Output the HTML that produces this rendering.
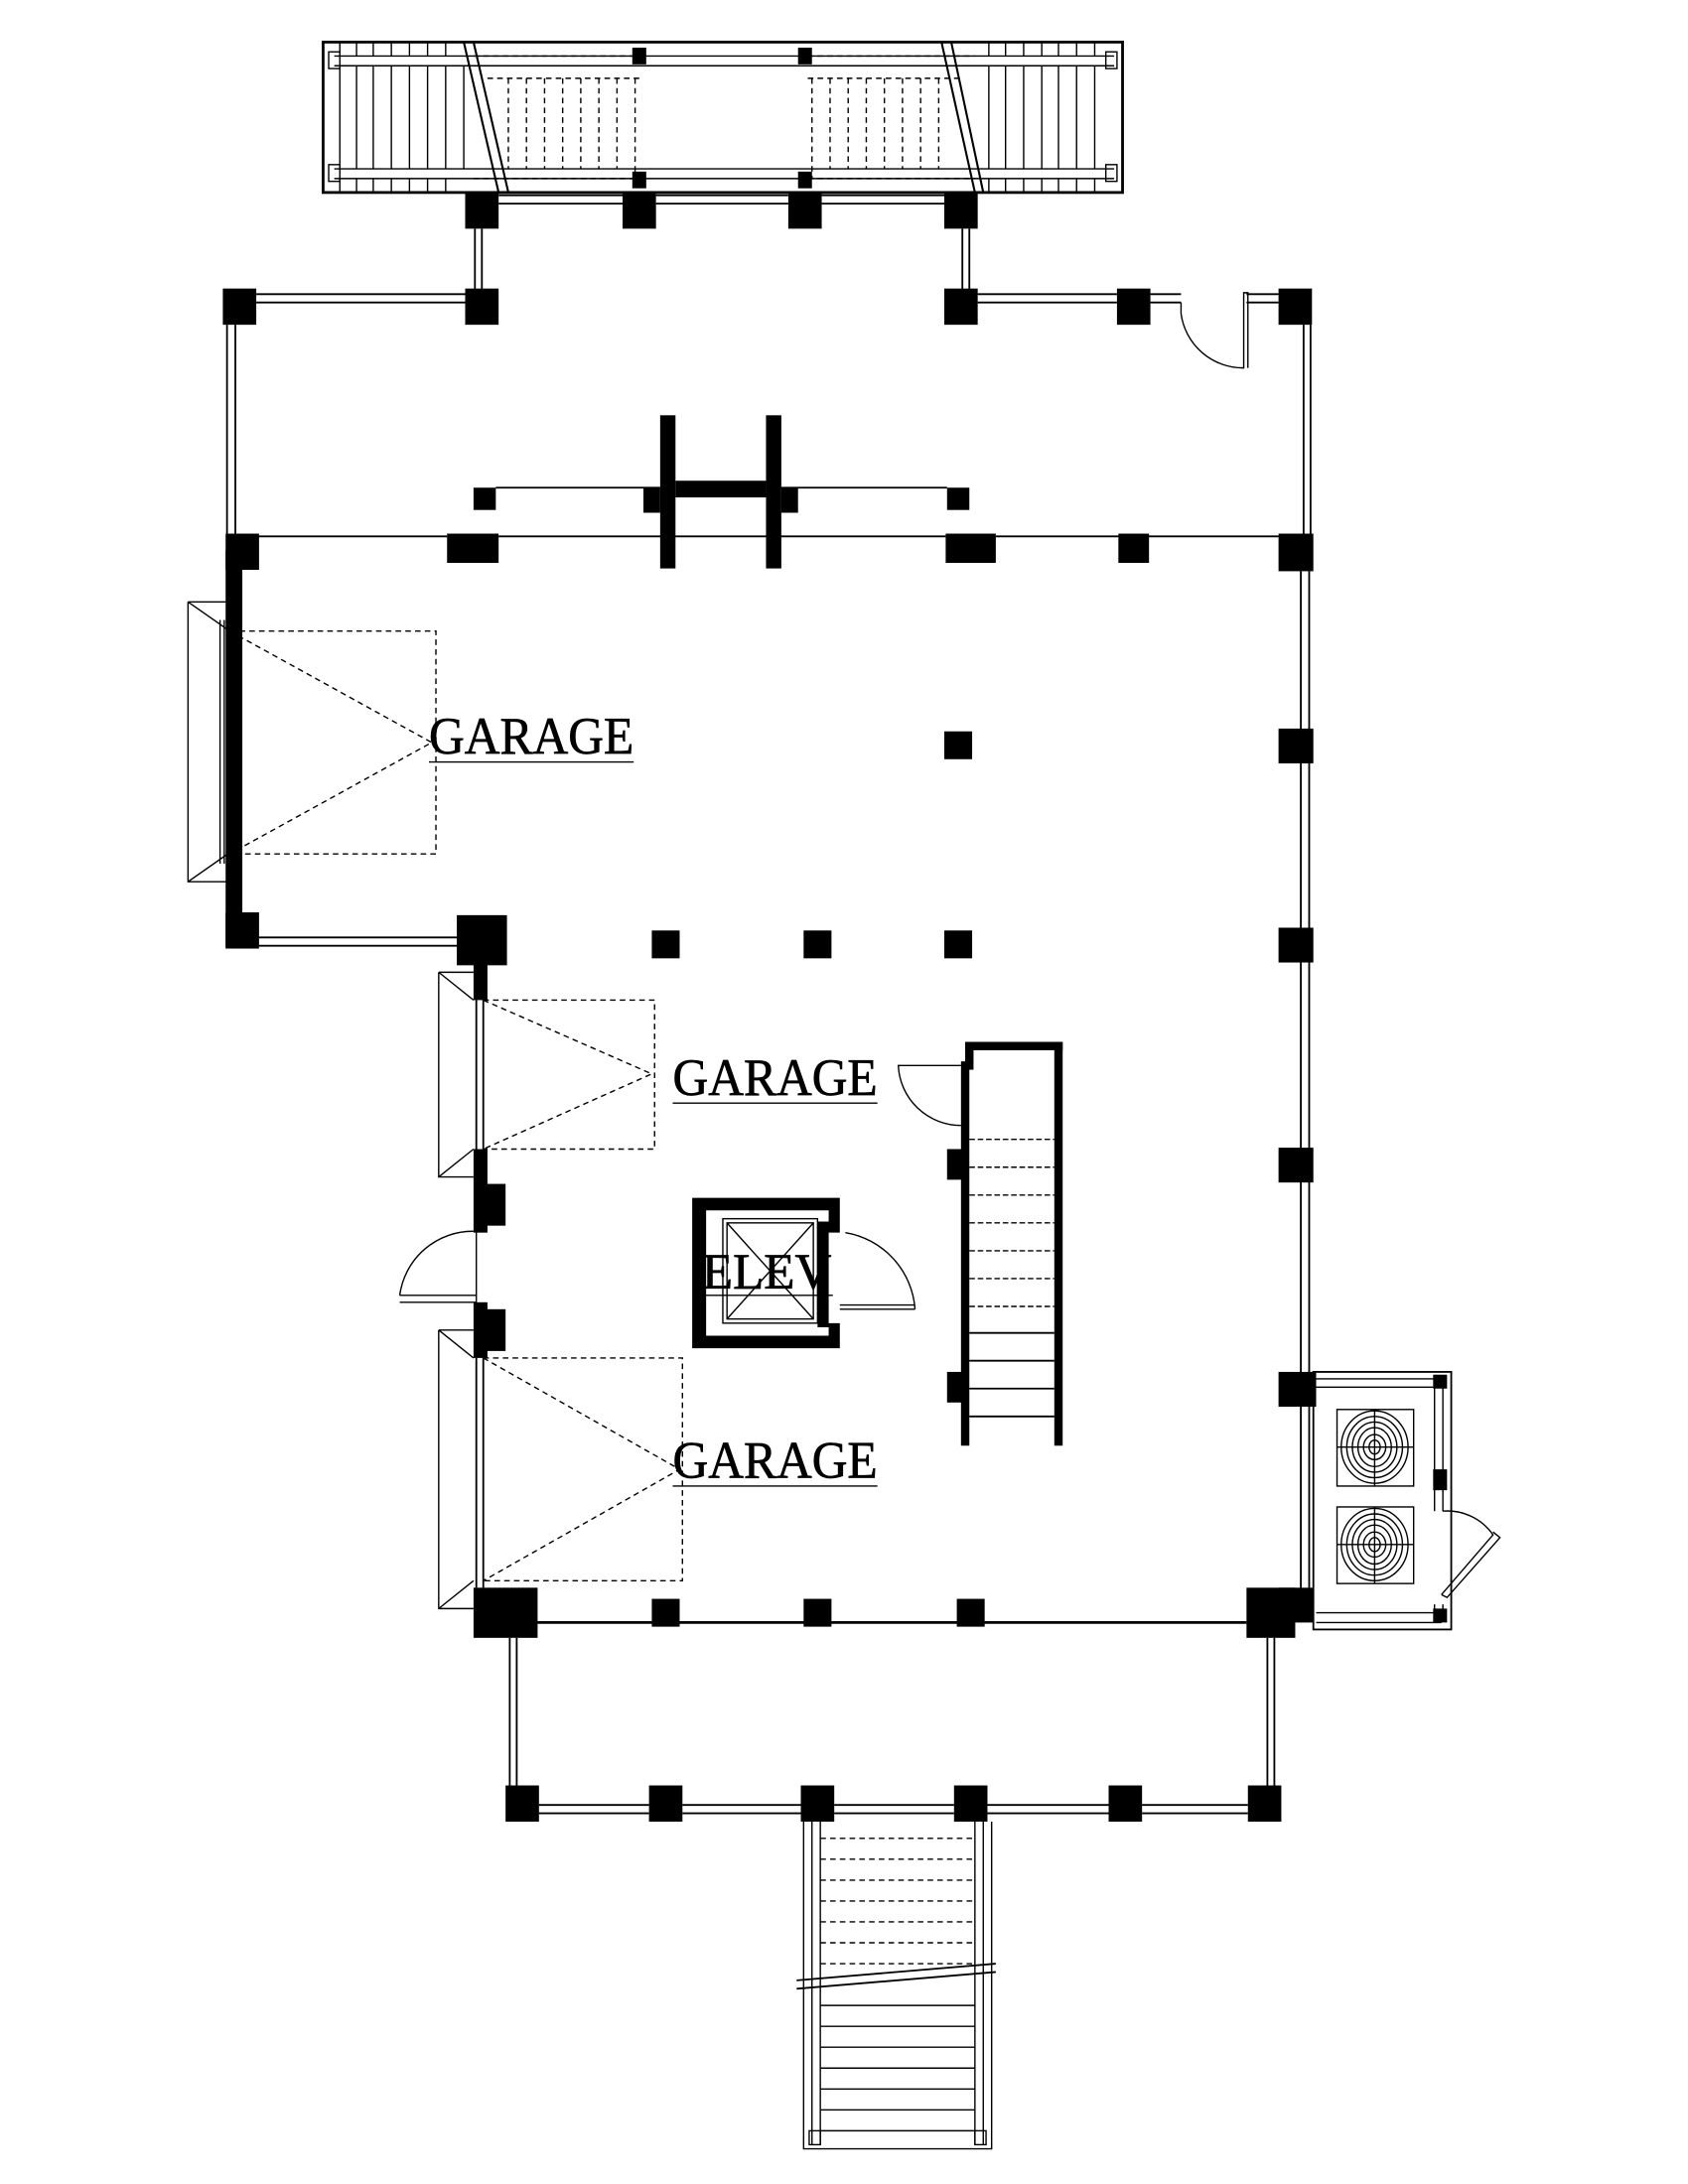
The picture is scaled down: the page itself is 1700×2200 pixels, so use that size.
<!DOCTYPE html>
<html><head><meta charset="utf-8"><style>html,body{margin:0;padding:0;background:#fff}svg{display:block}</style></head><body>
<svg width="1700" height="2200" viewBox="0 0 1212 1568" xmlns="http://www.w3.org/2000/svg" fill="none" stroke="#000" stroke-width="1.3">
<rect width="1212" height="1568" fill="#fff" stroke="none"/>
<rect x="232" y="30" width="574" height="108" stroke-width="2"/>
<g stroke-width="1">
<line x1="240" y1="40" x2="800" y2="40"/><line x1="240" y1="47" x2="800" y2="47"/>
<line x1="240" y1="121" x2="800" y2="121"/><line x1="240" y1="128" x2="800" y2="128"/>
<rect x="236" y="37" width="8" height="12"/><rect x="236" y="118" width="8" height="12"/>
<rect x="794" y="37" width="8" height="12"/><rect x="794" y="118" width="8" height="12"/>
</g>
<g stroke-width="1">
<path d="M244 47V121M256 47V121M268 47V121M281 47V121M294 47V121M307 47V121M320 47V121M333 47V121"/>
<path d="M710 47V121M722 47V121M735 47V121M748 47V121M760 47V121M773 47V121M786 47V121"/>
<path d="M244 30V40M256 30V40M268 30V40M281 30V40M294 30V40M307 30V40M320 30V40M244 128V138M256 128V138M268 128V138M281 128V138M294 128V138M307 128V138M320 128V138"/>
<path d="M710 30V40M722 30V40M735 30V40M748 30V40M760 30V40M773 30V40M786 30V40M710 128V138M722 128V138M735 128V138M748 128V138M760 128V138M773 128V138M786 128V138"/>
</g>
<g stroke-width="1" stroke-dasharray="4 3">
<path d="M340 30H700M340 40H460M580 40H700M340 128H460M580 128H700"/>
<path d="M365 56V121M378 56V121M391 56V121M404 56V121M417 56V121M430 56V121M443 56V121M456 56V128"/>
<path d="M583 56V128M596 56V121M609 56V121M622 56V121M635 56V121M648 56V121M661 56V121M674 56V121"/>
<path d="M350 56H460M580 56H690M460 47H580"/>
</g>
<path d="M333 30L358 138M340 30L365 138M676 30L700 138M683 30L706 138" stroke-width="1.5"/>
<g fill="#000" stroke="none">
<rect x="454" y="34" width="10" height="12"/><rect x="573" y="34" width="10" height="12"/>
<rect x="454" y="123" width="10" height="12"/><rect x="573" y="123" width="10" height="12"/>
<rect x="334" y="137" width="24" height="27"/><rect x="447" y="137" width="24" height="27"/>
<rect x="566" y="137" width="24" height="27"/><rect x="678" y="137" width="24" height="27"/>
</g>
<path d="M358 140H447M358 146H447M471 140H566M471 146H566M590 140H678M590 146H678"/>
<path d="M341 164V208M346 164V208M691 164V208M696 164V208"/>
<g fill="#000" stroke="none">
<rect x="160" y="207" width="24" height="26"/><rect x="334" y="207" width="24" height="26"/>
<rect x="678" y="207" width="24" height="26"/><rect x="802" y="207" width="24" height="26"/>
<rect x="918" y="207" width="24" height="26"/>
</g>
<path d="M184 211H334M184 217H334M702 211H802M702 217H802M826 211H848M826 217H848M895 211H918M895 217H918"/>
<path d="M848 217V225M848 225A45 45 0 0 0 893 264V210H896V264" stroke-width="1"/>
<path d="M163 233V385M169 233V385"/>
<path d="M936 233V385M941 233V385"/>
<g fill="#000" stroke="none">
<rect x="474" y="298" width="11" height="110"/><rect x="550" y="298" width="11" height="110"/>
<rect x="485" y="345" width="65" height="12"/>
<rect x="462" y="350" width="12" height="18"/><rect x="561" y="350" width="12" height="18"/>
<rect x="340" y="350" width="16" height="16"/><rect x="680" y="350" width="16" height="16"/>
</g>
<path d="M356 350H474M561 350H680"/>
<g fill="#000" stroke="none">
<rect x="162" y="383" width="24" height="26"/><rect x="321" y="383" width="37" height="21"/>
<rect x="679" y="383" width="36" height="21"/><rect x="803" y="383" width="22" height="21"/>
<rect x="918" y="383" width="25" height="27"/>
<rect x="162" y="395" width="12" height="285"/>
<rect x="162" y="655" width="24" height="26"/>
</g>
<path d="M186 385H321M358 385H679M715 385H918"/>
<path d="M135 432H165M135 432V633H165M135 633L165 612M135 432L165 453M158 445V620M161 445V620" stroke-width="1"/>
<g stroke-width="1" stroke-dasharray="4 3">
<path d="M165 453H313V613H165M165 453L310 533L165 613"/>
</g>
<text x="308" y="541" font-family="Liberation Serif, serif" font-size="38" textLength="147" lengthAdjust="spacingAndGlyphs" fill="#000" stroke="#000" stroke-width="0.5">GARAGE</text>
<path d="M308 547H455" stroke-width="1"/>
<path d="M934 410V1160M940 410V1160"/>
<g fill="#000" stroke="none">
<rect x="918" y="523" width="25" height="25"/><rect x="918" y="666" width="25" height="25"/>
<rect x="918" y="824" width="25" height="25"/><rect x="918" y="985" width="27" height="25"/>
<rect x="678" y="525" width="20" height="20"/>
<rect x="468" y="668" width="20" height="20"/><rect x="577" y="668" width="20" height="20"/><rect x="678" y="668" width="20" height="20"/>
</g>
<path d="M186 673H330M186 679H330"/>
<g fill="#000" stroke="none">
<rect x="328" y="657" width="36" height="36"/>
<rect x="340" y="690" width="10" height="28"/>
<rect x="340" y="825" width="10" height="60"/><rect x="345" y="850" width="18" height="30"/>
<rect x="340" y="935" width="10" height="40"/><rect x="345" y="940" width="18" height="30"/>
<rect x="340" y="1140" width="46" height="36"/><rect x="895" y="1140" width="35" height="36"/><rect x="918" y="1140" width="25" height="25"/>
<rect x="468" y="1148" width="20" height="20"/><rect x="577" y="1148" width="20" height="20"/><rect x="687" y="1148" width="20" height="20"/>
</g>
<path d="M342 718V825M347 718V825M342 975V1140M347 975V1140"/>
<path d="M315 698H340M315 698V845H340M315 845L340 825M315 698L340 718" stroke-width="1"/>
<path d="M315 955H340M315 955V1155H340M315 1155L340 1135M315 955L340 975" stroke-width="1"/>
<g stroke-width="1" stroke-dasharray="4 3">
<path d="M347 718H470V825H347M347 718L468 771L347 825"/>
<path d="M347 975H490V1135H347M347 975L488 1055L347 1135"/>
</g>
<text x="483" y="786" font-family="Liberation Serif, serif" font-size="38" textLength="147" lengthAdjust="spacingAndGlyphs" fill="#000" stroke="#000" stroke-width="0.5">GARAGE</text>
<path d="M483 792H630" stroke-width="1"/>
<text x="483" y="1061" font-family="Liberation Serif, serif" font-size="38" textLength="147" lengthAdjust="spacingAndGlyphs" fill="#000" stroke="#000" stroke-width="0.5">GARAGE</text>
<path d="M483 1067H630" stroke-width="1"/>
<path d="M342 885V935M287 935H342M287 930H342M287 930A53 53 0 0 1 340 884" stroke-width="1"/>
<path d="M386 1165H895" stroke-width="2"/>
<g fill="#000" stroke="none">
<rect x="693" y="748" width="70" height="6"/><rect x="693" y="748" width="6" height="20"/>
<rect x="757" y="748" width="6" height="290"/><rect x="690" y="762" width="6" height="276"/>
<rect x="680" y="825" width="12" height="22"/><rect x="680" y="985" width="12" height="22"/>
</g>
<path d="M690 765H645A45 45 0 0 0 690 808" stroke-width="1"/>
<g stroke-width="1" stroke-dasharray="4 2"><path d="M696 818H757M696 838H757M696 858H757M696 878H757M696 898H757M696 918H757M696 938H757"/></g>
<path d="M696 957H757M696 977H757M696 997H757M696 1017H757" stroke-width="1.3"/>
<path d="M497 860H603V885H595V950H603V968H497Z M507 869V959H595V953H587V877H595V869Z" fill="#000" stroke="none" fill-rule="evenodd"/>
<rect x="519" y="875" width="68" height="75" stroke-width="1"/>
<rect x="522" y="878" width="62" height="69" stroke-width="1"/>
<path d="M522 878L584 947M584 878L522 947M505 930H598" stroke-width="1"/>
<text x="504" y="925" font-family="Liberation Serif, serif" font-size="36" textLength="93" lengthAdjust="spacingAndGlyphs" fill="#000" stroke="#000" stroke-width="0.5">ELEV</text>
<path d="M603 940H657M603 937H657M657 940A60 60 0 0 0 607 885" stroke-width="1"/>
<rect x="943" y="985" width="99" height="185" stroke-width="1.3"/>
<path d="M945 990H1035M945 996H1035M945 1158H1035M945 1165H1035M1030 996V1085M1036 996V1085M1030 1152V1158M1036 1152V1158" stroke-width="1"/>
<g fill="#000" stroke="none"><rect x="1029" y="987" width="10" height="10"/><rect x="1029" y="1055" width="10" height="15"/><rect x="1029" y="1155" width="10" height="10"/></g>
<path d="M1036 1085A40 40 0 0 1 1072 1102L1035 1145" stroke-width="1"/>
<path d="M1072 1100L1077 1104L1039 1147L1035 1145" stroke-width="1"/>
<g stroke-width="1">
<rect x="960" y="1012" width="55" height="55"/><path d="M960 1039H1015M987 1012V1067"/>
<ellipse cx="987" cy="1039" rx="24" ry="26"/><ellipse cx="987" cy="1039" rx="20" ry="22"/><ellipse cx="987" cy="1039" rx="16" ry="18"/><ellipse cx="987" cy="1039" rx="12" ry="14"/><ellipse cx="987" cy="1039" rx="8" ry="9"/><ellipse cx="987" cy="1039" rx="4" ry="5"/>
<rect x="960" y="1082" width="55" height="55"/><path d="M960 1109H1015M987 1082V1137"/>
<ellipse cx="987" cy="1109" rx="24" ry="26"/><ellipse cx="987" cy="1109" rx="20" ry="22"/><ellipse cx="987" cy="1109" rx="16" ry="18"/><ellipse cx="987" cy="1109" rx="12" ry="14"/><ellipse cx="987" cy="1109" rx="8" ry="9"/><ellipse cx="987" cy="1109" rx="4" ry="5"/>
</g>
<path d="M366 1176V1283M371 1176V1283M910 1176V1283M915 1176V1283"/>
<g fill="#000" stroke="none">
<rect x="363" y="1282" width="24" height="26"/><rect x="466" y="1282" width="24" height="26"/>
<rect x="575" y="1282" width="24" height="26"/><rect x="685" y="1282" width="24" height="26"/>
<rect x="796" y="1282" width="24" height="26"/><rect x="896" y="1282" width="24" height="26"/>
</g>
<path d="M387 1296H466M387 1302H466M490 1296H575M490 1302H575M599 1296H685M599 1302H685M709 1296H796M709 1302H796M820 1296H896M820 1302H896"/>
<g stroke-width="1">
<path d="M577 1308V1543H712V1308M583 1308V1540M589 1308V1540M700 1308V1540M706 1308V1540"/>
<rect x="581" y="1530" width="8" height="10"/><rect x="700" y="1530" width="8" height="10"/>
</g>
<g stroke-width="1" stroke-dasharray="4 3"><path d="M589 1320H700M589 1335H700M589 1350H700M589 1365H700M589 1380H700M589 1395H700M589 1410H700"/></g>
<path d="M572 1422L715 1410M572 1428L715 1416" stroke-width="1.3"/>
<path d="M589 1440H700M589 1455H700M589 1470H700M589 1485H700M589 1500H700M589 1515H700M589 1530H700" stroke-width="1"/>
</svg>
</body></html>
